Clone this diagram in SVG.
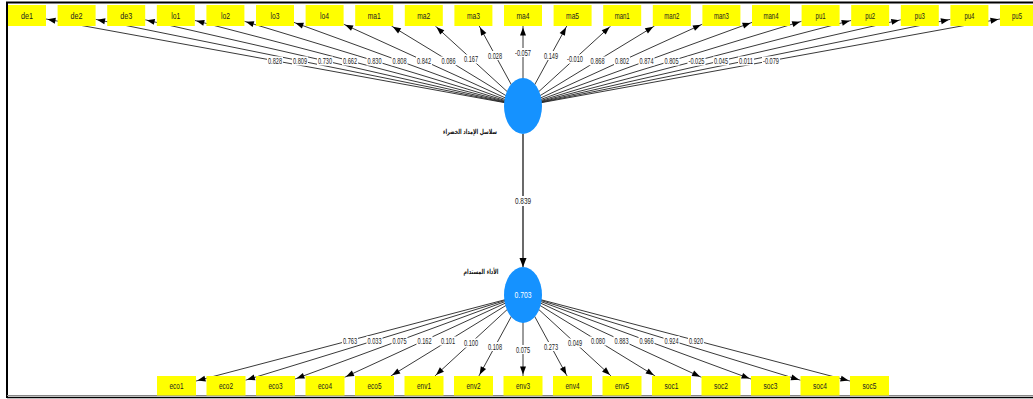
<svg xmlns="http://www.w3.org/2000/svg" width="1033" height="399" viewBox="0 0 1033 399">
<style>
.bg{fill:#ffffff}
.frame{stroke:#000;stroke-width:2;fill:none}
.box{fill:#ffff00}
.bt{font-family:"Liberation Sans",Arial,sans-serif;font-size:8.5px;fill:#222;text-anchor:middle}
.ln{stroke:#222;stroke-width:0.9;fill:none;marker-end:url(#ah)}
.vln{stroke:#444;stroke-width:1.6;fill:none;marker-end:url(#ah2)}
.lb{fill:#fff}
.lt{font-family:"Liberation Sans",Arial,sans-serif;font-size:8.5px;fill:#222;text-anchor:middle}
.lv{fill:#1592ff}
.ar{font-family:"DejaVu Sans","Noto Sans",sans-serif;font-size:7px;font-weight:bold;fill:#111;text-anchor:middle}
.rt{font-family:"Liberation Sans",Arial,sans-serif;font-size:8.5px;fill:#fff;text-anchor:middle}
</style>
<defs>
<marker id="ah" markerUnits="userSpaceOnUse" markerWidth="9" markerHeight="7" refX="9.5" refY="3" orient="auto" overflow="visible"><path d="M0,0 L8,3 L0,6 z" fill="#000"/></marker>
<marker id="ah2" markerUnits="userSpaceOnUse" markerWidth="10" markerHeight="8" refX="9" refY="3.5" orient="auto" overflow="visible"><path d="M0,0 L9,3.5 L0,7 z" fill="#000"/></marker>
</defs>
<rect class="bg" x="0" y="0" width="1033" height="399"/>
<g id="frame">
<path class="frame" d="M7,398 L7,2.5 L1033,2.5"/>
<line x1="7" y1="395.5" x2="1033" y2="395.5" stroke="#888" stroke-width="1"/>
<line x1="7" y1="397.5" x2="1033" y2="397.5" stroke="#000" stroke-width="1.5"/>
</g>
<g id="connectors">
<line class="ln" x1="523" y1="106" x2="46" y2="19"/>
<line class="ln" x1="523" y1="106" x2="95.6" y2="19.35"/>
<line class="ln" x1="523" y1="106" x2="145.2" y2="19.8"/>
<line class="ln" x1="523" y1="106" x2="194.8" y2="20.45"/>
<line class="ln" x1="523" y1="106" x2="244.4" y2="21.3"/>
<line class="ln" x1="523" y1="106" x2="294" y2="22.4"/>
<line class="ln" x1="523" y1="106" x2="343.6" y2="24.2"/>
<line class="ln" x1="523" y1="106" x2="391.5" y2="26"/>
<line class="ln" x1="523" y1="106" x2="435.3" y2="26"/>
<line class="ln" x1="523" y1="106" x2="479.2" y2="26"/>
<line class="ln" x1="523" y1="106" x2="523" y2="26"/>
<line class="ln" x1="523" y1="106" x2="566.8" y2="26"/>
<line class="ln" x1="523" y1="106" x2="610.7" y2="26"/>
<line class="ln" x1="523" y1="106" x2="654.5" y2="26"/>
<line class="ln" x1="523" y1="106" x2="702.4" y2="24.2"/>
<line class="ln" x1="523" y1="106" x2="752" y2="22.4"/>
<line class="ln" x1="523" y1="106" x2="801.6" y2="21.3"/>
<line class="ln" x1="523" y1="106" x2="851.2" y2="20.45"/>
<line class="ln" x1="523" y1="106" x2="900.8" y2="19.8"/>
<line class="ln" x1="523" y1="106" x2="950.4" y2="19.35"/>
<line class="ln" x1="523" y1="106" x2="1000" y2="19"/>
<line class="vln" x1="523" y1="134" x2="523" y2="267"/>
<line class="ln" x1="523" y1="295" x2="196" y2="381"/>
<line class="ln" x1="523" y1="295" x2="245.5" y2="380.2"/>
<line class="ln" x1="523" y1="295" x2="295" y2="379"/>
<line class="ln" x1="523" y1="295" x2="344.5" y2="377.3"/>
<line class="ln" x1="523" y1="295" x2="390.8" y2="376"/>
<line class="ln" x1="523" y1="295" x2="434.9" y2="376"/>
<line class="ln" x1="523" y1="295" x2="478.9" y2="376"/>
<line class="ln" x1="523" y1="295" x2="523" y2="376"/>
<line class="ln" x1="523" y1="295" x2="567.1" y2="376"/>
<line class="ln" x1="523" y1="295" x2="611.1" y2="376"/>
<line class="ln" x1="523" y1="295" x2="655.2" y2="376"/>
<line class="ln" x1="523" y1="295" x2="701.5" y2="377.3"/>
<line class="ln" x1="523" y1="295" x2="751" y2="379"/>
<line class="ln" x1="523" y1="295" x2="800.5" y2="380.2"/>
<line class="ln" x1="523" y1="295" x2="850" y2="381"/>
</g>
<g id="edge-labels">
<rect class="lb" x="267" y="56.5" width="16" height="9"/><text class="lt" x="275" y="64" textLength="14" lengthAdjust="spacingAndGlyphs">0.828</text>
<rect class="lb" x="292" y="56.5" width="16" height="9"/><text class="lt" x="300" y="64" textLength="14" lengthAdjust="spacingAndGlyphs">0.809</text>
<rect class="lb" x="317" y="56.5" width="16" height="9"/><text class="lt" x="325" y="64" textLength="14" lengthAdjust="spacingAndGlyphs">0.730</text>
<rect class="lb" x="342" y="56.5" width="16" height="9"/><text class="lt" x="350" y="64" textLength="14" lengthAdjust="spacingAndGlyphs">0.662</text>
<rect class="lb" x="366.5" y="56.5" width="16" height="9"/><text class="lt" x="374.5" y="64" textLength="14" lengthAdjust="spacingAndGlyphs">0.830</text>
<rect class="lb" x="391.5" y="56.5" width="16" height="9"/><text class="lt" x="399.5" y="64" textLength="14" lengthAdjust="spacingAndGlyphs">0.808</text>
<rect class="lb" x="416" y="56.5" width="16" height="9"/><text class="lt" x="424" y="64" textLength="14" lengthAdjust="spacingAndGlyphs">0.842</text>
<rect class="lb" x="440.5" y="56.5" width="16" height="9"/><text class="lt" x="448.5" y="64" textLength="14" lengthAdjust="spacingAndGlyphs">0.086</text>
<rect class="lb" x="463" y="54.5" width="16" height="9"/><text class="lt" x="471" y="62" textLength="14" lengthAdjust="spacingAndGlyphs">0.167</text>
<rect class="lb" x="487" y="51" width="16" height="9"/><text class="lt" x="495" y="58.5" textLength="14" lengthAdjust="spacingAndGlyphs">0.028</text>
<rect class="lb" x="514" y="48" width="18" height="9"/><text class="lt" x="523" y="55.5" textLength="16" lengthAdjust="spacingAndGlyphs">-0.057</text>
<rect class="lb" x="543" y="51" width="16" height="9"/><text class="lt" x="551" y="58.5" textLength="14" lengthAdjust="spacingAndGlyphs">0.149</text>
<rect class="lb" x="566" y="54.5" width="18" height="9"/><text class="lt" x="575" y="62" textLength="16" lengthAdjust="spacingAndGlyphs">-0.010</text>
<rect class="lb" x="589.5" y="56.5" width="16" height="9"/><text class="lt" x="597.5" y="64" textLength="14" lengthAdjust="spacingAndGlyphs">0.868</text>
<rect class="lb" x="614" y="56.5" width="16" height="9"/><text class="lt" x="622" y="64" textLength="14" lengthAdjust="spacingAndGlyphs">0.802</text>
<rect class="lb" x="638.5" y="56.5" width="16" height="9"/><text class="lt" x="646.5" y="64" textLength="14" lengthAdjust="spacingAndGlyphs">0.874</text>
<rect class="lb" x="663.5" y="56.5" width="16" height="9"/><text class="lt" x="671.5" y="64" textLength="14" lengthAdjust="spacingAndGlyphs">0.805</text>
<rect class="lb" x="687.5" y="56.5" width="18" height="9"/><text class="lt" x="696.5" y="64" textLength="16" lengthAdjust="spacingAndGlyphs">-0.025</text>
<rect class="lb" x="713" y="56.5" width="16" height="9"/><text class="lt" x="721" y="64" textLength="14" lengthAdjust="spacingAndGlyphs">0.045</text>
<rect class="lb" x="738" y="56.5" width="16" height="9"/><text class="lt" x="746" y="64" textLength="14" lengthAdjust="spacingAndGlyphs">0.011</text>
<rect class="lb" x="762" y="56.5" width="18" height="9"/><text class="lt" x="771" y="64" textLength="16" lengthAdjust="spacingAndGlyphs">-0.079</text>
<rect class="lb" x="514" y="196" width="18" height="10"/><text class="lt" x="523" y="204" textLength="16" lengthAdjust="spacingAndGlyphs">0.839</text>
<rect class="lb" x="342" y="336" width="16" height="9"/><text class="lt" x="350" y="343.5" textLength="14" lengthAdjust="spacingAndGlyphs">0.763</text>
<rect class="lb" x="366.5" y="336" width="16" height="9"/><text class="lt" x="374.5" y="343.5" textLength="14" lengthAdjust="spacingAndGlyphs">0.033</text>
<rect class="lb" x="391.5" y="336" width="16" height="9"/><text class="lt" x="399.5" y="343.5" textLength="14" lengthAdjust="spacingAndGlyphs">0.075</text>
<rect class="lb" x="416.5" y="336" width="16" height="9"/><text class="lt" x="424.5" y="343.5" textLength="14" lengthAdjust="spacingAndGlyphs">0.162</text>
<rect class="lb" x="440" y="336.5" width="16" height="9"/><text class="lt" x="448" y="344" textLength="14" lengthAdjust="spacingAndGlyphs">0.101</text>
<rect class="lb" x="463" y="338.5" width="16" height="9"/><text class="lt" x="471" y="346" textLength="14" lengthAdjust="spacingAndGlyphs">0.100</text>
<rect class="lb" x="487" y="342" width="16" height="9"/><text class="lt" x="495" y="349.5" textLength="14" lengthAdjust="spacingAndGlyphs">0.108</text>
<rect class="lb" x="515" y="345" width="16" height="9"/><text class="lt" x="523" y="352.5" textLength="14" lengthAdjust="spacingAndGlyphs">0.075</text>
<rect class="lb" x="543" y="342" width="16" height="9"/><text class="lt" x="551" y="349.5" textLength="14" lengthAdjust="spacingAndGlyphs">0.273</text>
<rect class="lb" x="567" y="338.5" width="16" height="9"/><text class="lt" x="575" y="346" textLength="14" lengthAdjust="spacingAndGlyphs">0.049</text>
<rect class="lb" x="590" y="336.5" width="16" height="9"/><text class="lt" x="598" y="344" textLength="14" lengthAdjust="spacingAndGlyphs">0.080</text>
<rect class="lb" x="613.5" y="336" width="16" height="9"/><text class="lt" x="621.5" y="343.5" textLength="14" lengthAdjust="spacingAndGlyphs">0.883</text>
<rect class="lb" x="638.5" y="336" width="16" height="9"/><text class="lt" x="646.5" y="343.5" textLength="14" lengthAdjust="spacingAndGlyphs">0.966</text>
<rect class="lb" x="663.5" y="336" width="16" height="9"/><text class="lt" x="671.5" y="343.5" textLength="14" lengthAdjust="spacingAndGlyphs">0.924</text>
<rect class="lb" x="688" y="336" width="16" height="9"/><text class="lt" x="696" y="343.5" textLength="14" lengthAdjust="spacingAndGlyphs">0.920</text>
</g>
<g id="lv-gsc">
<ellipse class="lv" cx="523" cy="106" rx="19" ry="28"/>
<text class="ar" x="470" y="134" textLength="54" lengthAdjust="spacingAndGlyphs">سلاسل الإمداد الخضراء</text>
</g>
<g id="lv-sp">
<ellipse class="lv" cx="523" cy="295" rx="19" ry="28"/>
<text class="rt" x="523" y="298" textLength="17" lengthAdjust="spacingAndGlyphs">0.703</text>
<text class="ar" x="481" y="274" textLength="35" lengthAdjust="spacingAndGlyphs">الأداء المستدام</text>
</g>
<g id="ind-top">
<g id="n-de1"><rect class="box" x="8" y="5" width="38" height="21"/><text class="bt" x="27" y="18.5" textLength="12" lengthAdjust="spacingAndGlyphs">de1</text></g>
<g id="n-de2"><rect class="box" x="57.6" y="5" width="38" height="21"/><text class="bt" x="76.6" y="18.5" textLength="12" lengthAdjust="spacingAndGlyphs">de2</text></g>
<g id="n-de3"><rect class="box" x="107.2" y="5" width="38" height="21"/><text class="bt" x="126.2" y="18.5" textLength="12" lengthAdjust="spacingAndGlyphs">de3</text></g>
<g id="n-lo1"><rect class="box" x="156.8" y="5" width="38" height="21"/><text class="bt" x="175.8" y="18.5" textLength="9" lengthAdjust="spacingAndGlyphs">lo1</text></g>
<g id="n-lo2"><rect class="box" x="206.4" y="5" width="38" height="21"/><text class="bt" x="225.4" y="18.5" textLength="9" lengthAdjust="spacingAndGlyphs">lo2</text></g>
<g id="n-lo3"><rect class="box" x="256" y="5" width="38" height="21"/><text class="bt" x="275" y="18.5" textLength="9" lengthAdjust="spacingAndGlyphs">lo3</text></g>
<g id="n-lo4"><rect class="box" x="305.6" y="5" width="38" height="21"/><text class="bt" x="324.6" y="18.5" textLength="9" lengthAdjust="spacingAndGlyphs">lo4</text></g>
<g id="n-ma1"><rect class="box" x="355.2" y="5" width="38" height="21"/><text class="bt" x="374.2" y="18.5" textLength="13" lengthAdjust="spacingAndGlyphs">ma1</text></g>
<g id="n-ma2"><rect class="box" x="404.8" y="5" width="38" height="21"/><text class="bt" x="423.8" y="18.5" textLength="13" lengthAdjust="spacingAndGlyphs">ma2</text></g>
<g id="n-ma3"><rect class="box" x="454.4" y="5" width="38" height="21"/><text class="bt" x="473.4" y="18.5" textLength="13" lengthAdjust="spacingAndGlyphs">ma3</text></g>
<g id="n-ma4"><rect class="box" x="504" y="5" width="38" height="21"/><text class="bt" x="523" y="18.5" textLength="13" lengthAdjust="spacingAndGlyphs">ma4</text></g>
<g id="n-ma5"><rect class="box" x="553.6" y="5" width="38" height="21"/><text class="bt" x="572.6" y="18.5" textLength="13" lengthAdjust="spacingAndGlyphs">ma5</text></g>
<g id="n-man1"><rect class="box" x="603.2" y="5" width="38" height="21"/><text class="bt" x="622.2" y="18.5" textLength="15" lengthAdjust="spacingAndGlyphs">man1</text></g>
<g id="n-man2"><rect class="box" x="652.8" y="5" width="38" height="21"/><text class="bt" x="671.8" y="18.5" textLength="15" lengthAdjust="spacingAndGlyphs">man2</text></g>
<g id="n-man3"><rect class="box" x="702.4" y="5" width="38" height="21"/><text class="bt" x="721.4" y="18.5" textLength="15" lengthAdjust="spacingAndGlyphs">man3</text></g>
<g id="n-man4"><rect class="box" x="752" y="5" width="38" height="21"/><text class="bt" x="771" y="18.5" textLength="15" lengthAdjust="spacingAndGlyphs">man4</text></g>
<g id="n-pu1"><rect class="box" x="801.6" y="5" width="38" height="21"/><text class="bt" x="820.6" y="18.5" textLength="10" lengthAdjust="spacingAndGlyphs">pu1</text></g>
<g id="n-pu2"><rect class="box" x="851.2" y="5" width="38" height="21"/><text class="bt" x="870.2" y="18.5" textLength="10" lengthAdjust="spacingAndGlyphs">pu2</text></g>
<g id="n-pu3"><rect class="box" x="900.8" y="5" width="38" height="21"/><text class="bt" x="919.8" y="18.5" textLength="10" lengthAdjust="spacingAndGlyphs">pu3</text></g>
<g id="n-pu4"><rect class="box" x="950.4" y="5" width="38" height="21"/><text class="bt" x="969.4" y="18.5" textLength="10" lengthAdjust="spacingAndGlyphs">pu4</text></g>
<g id="n-pu5"><rect class="box" x="1000" y="5" width="38" height="21"/><text class="bt" x="1017" y="18.5" textLength="10" lengthAdjust="spacingAndGlyphs">pu5</text></g>
</g>
<g id="ind-bottom">
<g id="n-eco1"><rect class="box" x="157" y="376" width="39" height="19.5"/><text class="bt" x="176.5" y="389" textLength="14" lengthAdjust="spacingAndGlyphs">eco1</text></g>
<g id="n-eco2"><rect class="box" x="206.5" y="376" width="39" height="19.5"/><text class="bt" x="226" y="389" textLength="14" lengthAdjust="spacingAndGlyphs">eco2</text></g>
<g id="n-eco3"><rect class="box" x="256" y="376" width="39" height="19.5"/><text class="bt" x="275.5" y="389" textLength="14" lengthAdjust="spacingAndGlyphs">eco3</text></g>
<g id="n-eco4"><rect class="box" x="305.5" y="376" width="39" height="19.5"/><text class="bt" x="325" y="389" textLength="14" lengthAdjust="spacingAndGlyphs">eco4</text></g>
<g id="n-eco5"><rect class="box" x="355" y="376" width="39" height="19.5"/><text class="bt" x="374.5" y="389" textLength="14" lengthAdjust="spacingAndGlyphs">eco5</text></g>
<g id="n-env1"><rect class="box" x="404.5" y="376" width="39" height="19.5"/><text class="bt" x="424" y="389" textLength="14" lengthAdjust="spacingAndGlyphs">env1</text></g>
<g id="n-env2"><rect class="box" x="454" y="376" width="39" height="19.5"/><text class="bt" x="473.5" y="389" textLength="14" lengthAdjust="spacingAndGlyphs">env2</text></g>
<g id="n-env3"><rect class="box" x="503.5" y="376" width="39" height="19.5"/><text class="bt" x="523" y="389" textLength="14" lengthAdjust="spacingAndGlyphs">env3</text></g>
<g id="n-env4"><rect class="box" x="553" y="376" width="39" height="19.5"/><text class="bt" x="572.5" y="389" textLength="14" lengthAdjust="spacingAndGlyphs">env4</text></g>
<g id="n-env5"><rect class="box" x="602.5" y="376" width="39" height="19.5"/><text class="bt" x="622" y="389" textLength="14" lengthAdjust="spacingAndGlyphs">env5</text></g>
<g id="n-soc1"><rect class="box" x="652" y="376" width="39" height="19.5"/><text class="bt" x="671.5" y="389" textLength="14" lengthAdjust="spacingAndGlyphs">soc1</text></g>
<g id="n-soc2"><rect class="box" x="701.5" y="376" width="39" height="19.5"/><text class="bt" x="721" y="389" textLength="14" lengthAdjust="spacingAndGlyphs">soc2</text></g>
<g id="n-soc3"><rect class="box" x="751" y="376" width="39" height="19.5"/><text class="bt" x="770.5" y="389" textLength="14" lengthAdjust="spacingAndGlyphs">soc3</text></g>
<g id="n-soc4"><rect class="box" x="800.5" y="376" width="39" height="19.5"/><text class="bt" x="820" y="389" textLength="14" lengthAdjust="spacingAndGlyphs">soc4</text></g>
<g id="n-soc5"><rect class="box" x="850" y="376" width="39" height="19.5"/><text class="bt" x="869.5" y="389" textLength="14" lengthAdjust="spacingAndGlyphs">soc5</text></g>
</g>
</svg>
